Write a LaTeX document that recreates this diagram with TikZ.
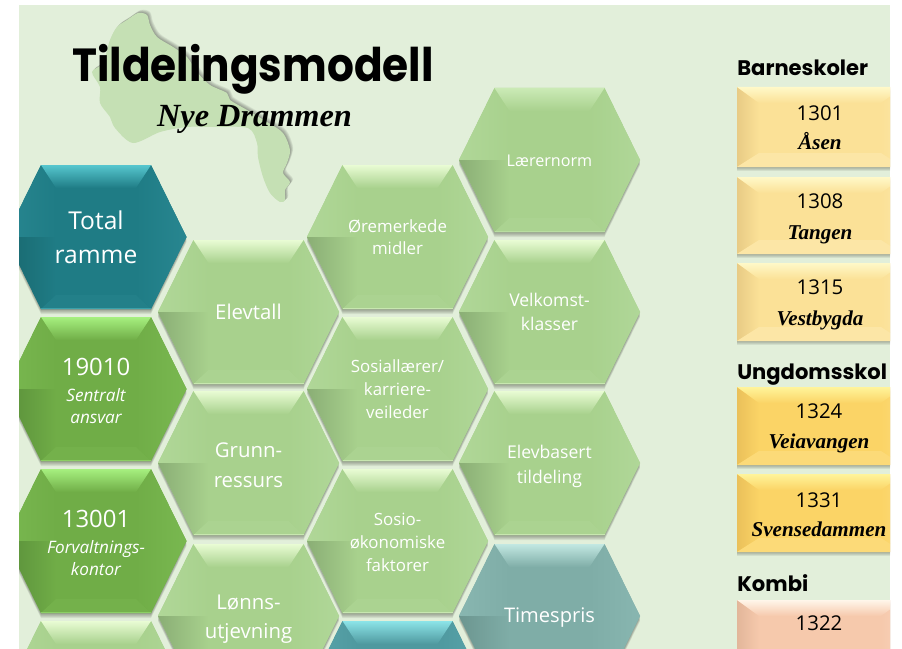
\documentclass[tikz,border=0pt]{standalone}
\usepackage{fontspec}
\usepackage{xcolor}
\usetikzlibrary{calc}

\newfontfamily\headfont{Poppins}
\newfontfamily\titlefont[FakeStretch=0.91]{Poppins}
\newfontfamily\hexfont{Open Sans}
\newfontfamily\brushfont{Liberation Serif}

\definecolor{sheet}{HTML}{E2EFDA}
\definecolor{island}{HTML}{C5E0B4}
% hexagon colours: Base, Top, Low (lower left), Up (upper sides)
\definecolor{leafBase}{HTML}{A8D18D}
\definecolor{leafTop}{HTML}{E9FCD4}
\definecolor{leafLow}{HTML}{8AAE75}
\definecolor{leafUp}{HTML}{B0D798}
\definecolor{normBase}{HTML}{A8D18D}
\definecolor{normTop}{HTML}{CBEAB6}
\definecolor{normLow}{HTML}{8AAE75}
\definecolor{normUp}{HTML}{B0D798}
\definecolor{moneyBase}{HTML}{70AD47}
\definecolor{moneyTop}{HTML}{A6F07F}
\definecolor{moneyLow}{HTML}{5A8F3A}
\definecolor{moneyUp}{HTML}{79B850}
\definecolor{totalBase}{HTML}{1F7C85}
\definecolor{totalTop}{HTML}{56C6CE}
\definecolor{totalLow}{HTML}{19686F}
\definecolor{totalUp}{HTML}{288690}
\definecolor{rateBase}{HTML}{4F999F}
\definecolor{rateTop}{HTML}{8CE4E8}
\definecolor{rateLow}{HTML}{3F7F85}
\definecolor{rateUp}{HTML}{5AA5AB}
\definecolor{priceBase}{HTML}{7FADA7}
\definecolor{priceTop}{HTML}{C2E8E2}
\definecolor{priceLow}{HTML}{6C9690}
\definecolor{priceUp}{HTML}{88B6B0}
% school boxes
\definecolor{barnBase}{HTML}{FBE197}
\definecolor{barnTop}{HTML}{FFF9C8}
\definecolor{barnLow}{HTML}{E8CB85}
\definecolor{barnUp}{HTML}{FCE6A6}
\definecolor{ungBase}{HTML}{FBD466}
\definecolor{ungTop}{HTML}{FFF49A}
\definecolor{ungLow}{HTML}{EAC05A}
\definecolor{ungUp}{HTML}{FCDA78}
\definecolor{kombiBase}{HTML}{F6C9AC}
\definecolor{kombiTop}{HTML}{FFF6EA}
\definecolor{kombiLow}{HTML}{E2B69A}
\definecolor{kombiUp}{HTML}{F8D2BA}

\tikzset{
	lab/.style 2 args={font=\hexfont\fontsize{#1}{#2}\selectfont, text=white, align=center, inner sep=0pt},
	slanted/.style 2 args={font=\hexfont\itshape\fontsize{#1}{#2}\selectfont, text=white, align=center, inner sep=0pt},
	number/.style={font=\hexfont\fontsize{14.5}{17}\selectfont, text=black, inner sep=0pt},
	school/.style={font=\brushfont\bfseries\itshape\fontsize{#1}{#1}\selectfont, text=black, inner sep=0pt, anchor=base},
	heading/.style={font=\headfont\bfseries\fontsize{15}{17}\selectfont, text=black, inner sep=0pt, anchor=base west},
}

\newcommand{\hexoutline}{(-90.5,0) -- (-55,-72) -- (55,-72) -- (90.5,0) -- (55,72) -- (-55,72) -- cycle}

% \hexcell{x}{y}{colour prefix}
\newcommand{\hexcell}[3]{
	\begin{scope}[shift={(#1,#2)}]
		\foreach \d in {1,2,3,4,5}
			\fill [black, opacity=0.07, yshift=\d*0.25mm*-1] \hexoutline;
		\fill [#3Base] \hexoutline;
		\shade [left color=#3Up, right color=#3Base] (-90.5,0) -- (-55,-72) -- (-40,-49) -- (-40,0) -- cycle;
		\shade [left color=#3Low, right color=#3Base] (-90.5,0) -- (-55,72) -- (-40,58) -- (-40,0) -- cycle;
		\shade [left color=#3Base, right color=#3Up] (90.5,0) -- (55,-72) -- (40,-49) -- (40,0) -- cycle;
		\shade [left color=#3Base, right color=#3Up] (90.5,0) -- (55,72) -- (40,58) -- (40,0) -- cycle;
		\shade [top color=#3Top, bottom color=#3Base] (-55,-72) -- (55,-72) -- (40,-49) -- (-40,-49) -- cycle;
		\fill [#3Up!40!#3Base] (-55,72) -- (55,72) -- (40,58) -- (-40,58) -- cycle;
		\draw [#3Top!50!#3Base, line width=0.25mm] (-55,71.5) -- (55,71.5);
	\end{scope}
}

% \schoolbox{top}{bottom}{colour prefix}
\newcommand{\schoolbox}[3]{
	\foreach \d in {1,2,3,4}
		\fill [black, opacity=0.07] (737,#1+\d) rectangle (903,#2+\d);
	\fill [#3Base] (737,#1) rectangle (903,#2);
	\shade [left color=#3Low, right color=#3Base] (737,#1) -- (759,#1+16) -- (759,#2-14) -- (737,#2) -- cycle;
	\shade [left color=#3Base, right color=#3Up] (903,#1) -- (881,#1+16) -- (881,#2-14) -- (903,#2) -- cycle;
	\shade [top color=#3Top, bottom color=#3Base] (737,#1) -- (903,#1) -- (881,#1+16) -- (759,#1+16) -- cycle;
	\fill [#3Up] (737,#2) -- (903,#2) -- (881,#2-14) -- (759,#2-14) -- cycle;
}

\newcommand{\islandoutline}{plot [smooth cycle] coordinates {(138,13) (147,15) (150,25) (157,37) (173,47) (187,57) (197,72) (210,85) (227,93) (230,100) (247,110) (267,122) (283,133) (290,150) (287,163) (283,173) (290,182) (285,190) (285,200) (280,202) (270,193) (263,177) (258,157) (257,143) (248,128) (213,127) (187,127) (160,132) (133,143) (115,128) (110,117) (100,103) (100,87) (92,72) (103,63) (110,40) (117,27) (127,20)}}

\begin{document}
\begin{tikzpicture}[x=0.25mm, y=-0.25mm]
	\useasboundingbox (0,0) rectangle (902,649);
	\fill [white] (0,0) rectangle (902,649);

	\begin{scope}
	\clip (19,5) rectangle (890,649);
	\fill [sheet] (19,5) rectangle (890,649);

	% island behind the title
	\foreach \d in {6,5,4,3,2,1}
		\fill [black, opacity=0.06, xshift=\d*0.13mm, yshift=\d*0.13mm] \islandoutline;
	\fill [island] \islandoutline;

	% first column
	\hexcell{96}{237}{total}
	\hexcell{96}{389}{money}
	\hexcell{96}{541}{money}
	\hexcell{96}{693}{leaf}

	% second column
	\hexcell{248.5}{312}{leaf}
	\hexcell{248.5}{463}{leaf}
	\hexcell{248.5}{616}{leaf}

	% third column
	\hexcell{397.5}{237}{leaf}
	\hexcell{397.5}{389}{leaf}
	\hexcell{397.5}{541}{leaf}
	\hexcell{397.5}{693}{rate}

	% fourth column
	\hexcell{549.5}{160}{norm}
	\hexcell{549.5}{312}{leaf}
	\hexcell{549.5}{463}{leaf}
	\hexcell{549.5}{616}{price}

	% schools
	\schoolbox{87}{167}{barn}
	\schoolbox{177}{254}{barn}
	\schoolbox{263}{341}{barn}
	\schoolbox{387}{465}{ung}
	\schoolbox{474}{552}{ung}
	\schoolbox{600}{700}{kombi}

	\node (title) [font=\titlefont\bfseries\fontsize{33}{36}\selectfont, inner sep=0pt] at (253,69) {Tildelingsmodell};
	\node (subtitle) [school=23] at (254.5,126) {Nye Drammen};

	\node (total) [lab={17.5}{24}] at (96,237) {Total\\ramme};
	\node (sentralNo) [lab={17}{20}] at (96,367) {19010};
	\node (sentral) [slanted={12.2}{15.7}] at (96,406) {Sentralt\\ansvar};
	\node (forvaltNo) [lab={17}{20}] at (96,519) {13001};
	\node (forvalt) [slanted={12.2}{15.7}] at (96,558) {Forvaltnings-\\kontor};

	\node (elevtall) [lab={14.5}{20}] at (248.5,312) {Elevtall};
	\node (grunn) [lab={14.5}{21}] at (248.5,465) {Grunn-\\ressurs};
	\node (lonn) [lab={14.5}{21}] at (248.5,619) {Lønns-\\utjevning};

	\node (oremerk) [lab={12}{15.7}] at (397.5,237) {Øremerkede\\midler};
	\node (sosial) [lab={12}{16.4}] at (397.5,389) {Sosiallærer/\\karriere-\\veileder};
	\node (sosio) [lab={12}{16.4}] at (397.5,542) {Sosio-\\økonomiske\\faktorer};

	\node (norm) [lab={11.5}{15}] at (549.5,161) {Lærernorm};
	\node (velkomst) [lab={12.5}{17.5}] at (549.5,312) {Velkomst-\\klasser};
	\node (elevbasert) [lab={12.5}{17.8}] at (549.5,466) {Elevbasert\\tildeling};
	\node (timepris) [lab={14.3}{18}] at (549.5,618) {Timespris};

	\node (barne) [heading] at (737,76) {Barneskoler};
	\node (ungdom) [heading] at (737,379) {Ungdomsskol};
	\node (kombi) [heading] at (737,591) {Kombi};

	\node (asenNo) [number] at (820,113) {1301};
	\node (asen) [school=15] at (820,150) {Åsen};
	\node (tangenNo) [number] at (820,201) {1308};
	\node (tangen) [school=15] at (820,239) {Tangen};
	\node (vestNo) [number] at (820,287) {1315};
	\node (vest) [school=15] at (820,325) {Vestbygda};
	\node (veiaNo) [number] at (819,411) {1324};
	\node (veia) [school=15] at (819,448) {Veiavangen};
	\node (svenseNo) [number] at (819,500) {1331};
	\node (svense) [school=15] at (819,536) {Svensedammen};
	\node (kombiNo) [number] at (819,623) {1322};
	\end{scope}
\end{tikzpicture}
\end{document}
